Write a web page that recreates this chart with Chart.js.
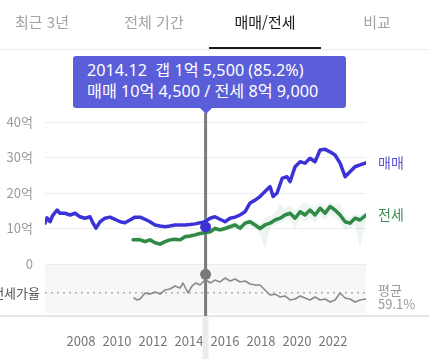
<!DOCTYPE html>
<html lang="ko">
<head>
<meta charset="utf-8">
<script src="https://cdn.jsdelivr.net/npm/chart.js@4/dist/chart.umd.min.js"></script>
<style>
  html, body { margin: 0; padding: 0; background: #fff; }
  body { width: 429px; height: 359px; position: relative; overflow: hidden;
         font-family: "Noto Sans CJK KR", "Noto Sans", sans-serif; }
  #chart { position: absolute; left: 0; top: 0; }
  .tab { position: absolute; top: 10px; font-size: 15px; line-height: 24px; color: #a3a3a3;
         transform: translateX(-50%); white-space: nowrap; }
  .tab.on { color: #1a1a1a; }
  #tabline { position: absolute; left: 0; top: 49px; width: 429px; height: 1px; background: #ebebeb; }
  #tabbar { position: absolute; left: 209px; top: 47px; width: 112px; height: 2px; background: #1a1a1a; }
  #tip { position: absolute; left: 73px; top: 56px; width: 259px; height: 48px; padding: 4px 0 0 14px;
         background: #5a5ed8; color: #fff; border-radius: 3px; line-height: 21px;
         font-family: "Noto Sans", "Noto Sans CJK KR", sans-serif; font-size: 16.2px;
         white-space: pre; }
  #tipArrow { position: absolute; top: 108px; width: 0; height: 0;
              border-left: 6px solid transparent; border-right: 6px solid transparent;
              border-top: 6px solid #5a5ed8; }
</style>
</head>
<body>
<canvas id="chart" width="429" height="359"></canvas>
<div class="tab" style="left:42px">최근 3년</div>
<div class="tab" style="left:154px">전체 기간</div>
<div class="tab on" style="left:265px">매매/전세</div>
<div class="tab" style="left:377px">비교</div>
<div id="tabline"></div>
<div id="tabbar"></div>
<div id="tip">2014.12  갭 1억 5,500 (85.2%)
매매 10억 4,500 / 전세 8억 9,000</div>
<div id="tipArrow"></div>
<script>
// 매매가 (억)
const saleYears = [2006.0, 2006.11, 2006.28, 2006.44, 2006.67, 2006.83, 2007.11, 2007.39, 2007.67, 2007.94,
  2008.22, 2008.5, 2008.67, 2008.83, 2009.06, 2009.33, 2009.61, 2009.89, 2010.17, 2010.44, 2010.72,
  2011.0, 2011.28, 2011.56, 2011.83, 2012.11, 2012.39, 2012.67, 2012.94, 2013.22, 2013.5, 2013.78,
  2014.06, 2014.33, 2014.61, 2014.92, 2015.17, 2015.44, 2015.72, 2016.0, 2016.28, 2016.56, 2016.83,
  2017.11, 2017.39, 2017.67, 2017.94, 2018.22, 2018.5, 2018.67, 2018.89, 2019.17, 2019.44, 2019.61,
  2019.89, 2020.17, 2020.44, 2020.72, 2021.0, 2021.28, 2021.56, 2021.83, 2022.11, 2022.39, 2022.67,
  2022.94, 2023.22, 2023.5, 2023.83];
const saleValues = [11.5, 13, 11.9, 13.8, 15.2, 14.3, 14.3, 13.8, 14.3, 13.3,
  12.9, 13.3, 11.5, 10.1, 11.9, 12.9, 13.2, 12.6, 11.9, 11.6, 12.4,
  13.2, 13.2, 12.6, 11.9, 11.0, 10.7, 10.5, 10.7, 11.0, 11.0, 11.0,
  11.1, 11.3, 11.6, 12.0, 12.9, 13.3, 12.6, 11.9, 12.9, 13.2, 13.8,
  14.7, 17.2, 18.0, 19.0, 20.4, 21.8, 19.0, 20.0, 24.1, 24.6, 23.2,
  27.4, 28.8, 28.4, 29.8, 28.8, 32.1, 32.3, 31.6, 30.7, 28.4, 24.6,
  26.0, 27.4, 27.9, 28.5];

// 전세가 (억) 및 변동 범위
const rentYears = [2010.89, 2011.28, 2011.56, 2011.83, 2012.11, 2012.39, 2012.67, 2012.94, 2013.22, 2013.5,
  2013.78, 2014.06, 2014.33, 2014.61, 2014.92, 2015.17, 2015.44, 2015.72, 2016.0, 2016.28,
  2016.56, 2016.83, 2017.11, 2017.39, 2017.67, 2017.94, 2018.22, 2018.5, 2018.78, 2019.06,
  2019.33, 2019.61, 2019.89, 2020.17, 2020.44, 2020.72, 2021.0, 2021.28, 2021.56, 2021.83,
  2022.11, 2022.39, 2022.67, 2022.94, 2023.22, 2023.5, 2023.83];
const rentValues = [6.8, 6.8, 6.3, 6.8, 6.0, 5.6, 6.3, 6.8, 7.0, 6.8,
  7.7, 7.9, 8.2, 8.6, 8.9, 9.1, 10.0, 9.6, 10.0, 10.5,
  11.0, 10.1, 11.5, 11.9, 11.0, 10.0, 11.0, 11.5, 12.4, 12.9,
  13.8, 14.3, 12.9, 14.7, 13.8, 15.2, 13.8, 15.7, 14.3, 16.2,
  15.2, 13.8, 11.9, 11.5, 12.9, 12.4, 13.8];
const rentHigh = [7.4, 8.2, 6.9, 7.3, 6.5, 6.2, 6.9, 7.3, 7.6, 7.4,
  8.6, 8.5, 8.9, 9.3, 9.5, 9.8, 10.8, 10.3, 10.8, 11.4,
  12.0, 11.0, 12.4, 12.8, 12.1, 11.2, 13.0, 13.5, 14.5, 17.0,
  15.6, 16.6, 15.0, 16.2, 17.4, 16.5, 16.0, 17.2, 16.4, 17.5,
  16.7, 17.2, 13.5, 13.0, 14.1, 13.9, 14.7];
const rentLow = [6.2, 6.3, 5.8, 6.2, 5.5, 5.1, 5.7, 6.2, 6.4, 6.2,
  7.0, 7.2, 7.5, 7.9, 8.2, 8.4, 9.1, 8.8, 9.2, 9.6,
  10.0, 9.2, 10.4, 10.8, 9.8, 8.8, 4.0, 10.2, 11.0, 11.5,
  12.2, 12.6, 9.8, 12.8, 11.8, 13.1, 11.4, 13.4, 12.2, 14.0,
  13.2, 11.4, 9.5, 10.0, 10.9, 4.8, 11.9];

// 전세가율 (%)
const ratioYears = [2010.94, 2011.11, 2011.28, 2011.56, 2011.83, 2012.11, 2012.39, 2012.67, 2012.94,
  2013.22, 2013.5, 2013.67, 2013.94, 2014.17, 2014.39, 2014.61, 2014.92, 2015.17, 2015.44, 2015.72,
  2016.0, 2016.28, 2016.56, 2016.83, 2017.11, 2017.39, 2017.67, 2017.94, 2018.22, 2018.5, 2018.78,
  2019.06, 2019.33, 2019.61, 2019.89, 2020.17, 2020.44, 2020.72, 2021.0, 2021.28, 2021.56, 2021.83,
  2022.11, 2022.39, 2022.67, 2022.94, 2023.22, 2023.5, 2023.83];
const ratioValues = [51.4, 48.6, 50, 58.6, 57, 60, 57, 62.9, 64.3,
  68.6, 65.7, 72.9, 58.6, 68.6, 72.9, 70, 78, 72.9, 77, 74.3,
  80, 75.7, 78.6, 74.3, 75.7, 71.4, 70, 70, 62.9, 55.7, 57,
  52.9, 54.3, 48.6, 50, 54.3, 51.4, 48.6, 52.9, 48.6, 50, 45.7,
  48.6, 58.6, 51.4, 50, 45.7, 48.6, 50];
const avgRatio = 59.1;

// 선택된 시점 (2014.12)
const selYear = 2014.92;
const selSale = 10.45;
const selRatio = 85.2;

const xTicks = [2008, 2010, 2012, 2014, 2016, 2018, 2020, 2022];
const yTicks = [0, 10, 20, 30, 40];
const yTickLabels = ['0', '10억', '20억', '30억', '40억'];

const BLUE = '#3b33d6';
const GREEN = '#2f8a45';
const FONT = '"Noto Sans CJK KR", "Noto Sans", sans-serif';

// 아래쪽 전세가율 영역은 0 아래에 붙어 있음
const yMin = -13.8, yMax = 40;
const ratioMin = 30, ratioTop = 100;
const y2Max = ratioMin + (ratioTop - ratioMin) * (yMax - yMin) / (0 - yMin);

const pts = (xs, ys) => xs.map((x, i) => ({ x: x, y: ys[i] }));

const decor = {
  id: 'decor',
  beforeDraw(chart) {
    const { ctx, chartArea: a, scales } = chart;
    const y0 = scales.y.getPixelForValue(0);
    ctx.save();
    ctx.fillStyle = '#f7f7f7';
    ctx.fillRect(a.left, y0 + 1, a.right - a.left, a.bottom - y0 - 1);
    ctx.restore();
  },
  beforeDatasetsDraw(chart) {
    const { ctx, chartArea: a, scales } = chart;
    const ya = scales.y2.getPixelForValue(avgRatio);
    const xs = scales.x.getPixelForValue(selYear);
    ctx.save();
    // 평균선
    ctx.strokeStyle = '#b0b0b0';
    ctx.lineWidth = 1.5;
    ctx.setLineDash([2, 4]);
    ctx.beginPath();
    ctx.moveTo(a.left, ya);
    ctx.lineTo(a.right, ya);
    ctx.stroke();
    ctx.setLineDash([]);
    // 구분선
    ctx.strokeStyle = '#e6e6e6';
    ctx.lineWidth = 2;
    ctx.beginPath();
    ctx.moveTo(0, a.bottom + 3);
    ctx.lineTo(chart.width, a.bottom + 3);
    ctx.stroke();
    // 세로 기준선
    ctx.strokeStyle = '#ebebeb';
    ctx.lineWidth = 6;
    ctx.beginPath();
    ctx.moveTo(xs, a.bottom + 3);
    ctx.lineTo(xs, chart.height);
    ctx.stroke();
    ctx.strokeStyle = '#7a7a7a';
    ctx.lineWidth = 3;
    ctx.beginPath();
    ctx.moveTo(xs, 113);
    ctx.lineTo(xs, a.bottom + 3);
    ctx.stroke();
    // 글자
    ctx.textBaseline = 'middle';
    ctx.font = '14px ' + FONT;
    ctx.fillStyle = '#5b55d6';
    ctx.fillText('매매', a.right + 12, scales.y.getPixelForValue(saleValues[saleValues.length - 1]));
    ctx.fillStyle = '#3d8c50';
    ctx.fillText('전세', a.right + 12, scales.y.getPixelForValue(rentValues[rentValues.length - 1]));
    ctx.font = '13px ' + FONT;
    ctx.fillStyle = '#9a9a9a';
    ctx.fillText('평균', a.right + 12, ya - 3);
    ctx.fillText(avgRatio + '%', a.right + 12, ya + 11);
    ctx.fillStyle = '#555';
    ctx.textAlign = 'right';
    ctx.fillText('전세가율', a.left - 5, ya);
    ctx.restore();
  }
};

const chart = new Chart(document.getElementById('chart'), {
  type: 'line',
  data: {
    datasets: [
      { label: 'sel-sale', data: [{ x: selYear, y: selSale }], showLine: false,
        pointRadius: 5.5, pointBackgroundColor: BLUE, pointBorderWidth: 0, order: 0 },
      { label: 'sel-ratio', data: [{ x: selYear, y: selRatio }], yAxisID: 'y2', showLine: false,
        pointRadius: 5.5, pointBackgroundColor: '#7a7a7a', pointBorderWidth: 0, order: 0 },
      { label: '매매', data: pts(saleYears, saleValues), borderColor: BLUE, borderWidth: 3.5,
        pointRadius: 0, order: 2 },
      { label: '전세', data: pts(rentYears, rentValues), borderColor: GREEN, borderWidth: 3.5,
        pointRadius: 0, order: 1 },
      { label: 'rent-high', data: pts(rentYears, rentHigh), borderWidth: 0, pointRadius: 0,
        fill: '+1', backgroundColor: 'rgba(70,160,95,0.10)', order: 5 },
      { label: 'rent-low', data: pts(rentYears, rentLow), borderWidth: 0, pointRadius: 0,
        fill: false, order: 5 },
      { label: '전세가율', data: pts(ratioYears, ratioValues), yAxisID: 'y2', borderColor: '#8a8a8a',
        borderWidth: 1.6, pointRadius: 0, order: 3 }
    ]
  },
  options: {
    responsive: false,
    animation: false,
    events: [],
    layout: { padding: { top: 122, right: 63, bottom: 0, left: 0 } },
    elements: { line: { tension: 0, borderJoinStyle: 'round', borderCapStyle: 'round' } },
    plugins: { legend: { display: false }, tooltip: { enabled: false } },
    scales: {
      x: {
        type: 'linear', min: 2006, max: 2023.83,
        grid: { display: false }, border: { display: false },
        afterBuildTicks: s => { s.ticks = xTicks.map(v => ({ value: v })); },
        afterFit: s => { s.height = 46; },
        ticks: { padding: 12, color: '#777', font: { size: 13, family: FONT },
                 maxRotation: 0, callback: v => String(v) }
      },
      y: {
        min: yMin, max: yMax,
        afterBuildTicks: s => { s.ticks = yTicks.map(v => ({ value: v })); },
        afterFit: s => { s.width = 45; },
        grid: { color: '#ececec', drawTicks: false },
        border: { display: false },
        ticks: { padding: 12, color: '#9a9a9a', font: { size: 13, family: FONT },
                 callback: v => yTickLabels[yTicks.indexOf(v)] }
      },
      y2: { display: false, min: ratioMin, max: y2Max }
    }
  },
  plugins: [decor]
});

const ax = chart.scales.x.getPixelForValue(selYear);
document.getElementById('tipArrow').style.left = (ax - 6) + 'px';
</script>
</body>
</html>
